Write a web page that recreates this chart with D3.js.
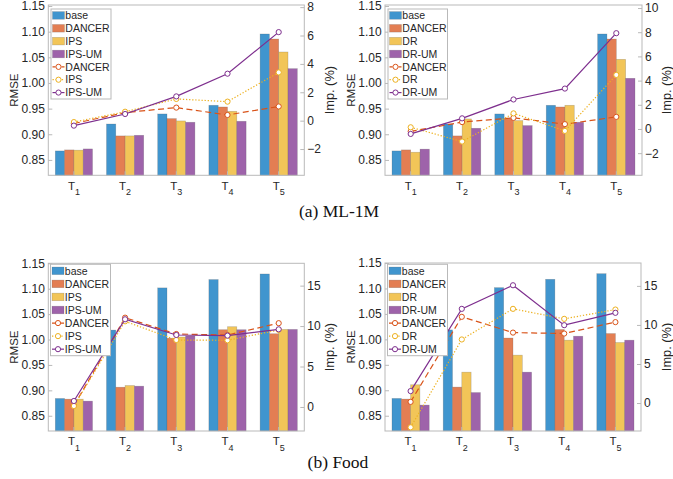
<!DOCTYPE html>
<html><head><meta charset="utf-8">
<script src="https://cdn.jsdelivr.net/npm/d3@7"></script>
<style>body{margin:0;background:#fff}svg{display:block}</style>
</head><body>
<svg id="c" width="673" height="479"></svg>
<script>
// ---------- data ----------
const categories = ["1", "2", "3", "4", "5"];
const rmseTicks = [0.85, 0.90, 0.95, 1.00, 1.05, 1.10, 1.15];
const impTicksML_IPS = [-2, 0, 2, 4, 6, 8];
const impTicksML_DR = [-2, 0, 2, 4, 6, 8, 10];
const impTicksFood = [0, 5, 10, 15];

// ML-1M RMSE
const mlBase   = [0.8675, 0.9200, 0.9396, 0.9565, 1.0955];
const mlDancer = [0.8695, 0.8968, 0.9305, 0.9532, 1.0857];
const mlIPS    = [0.8690, 0.8968, 0.9260, 0.9448, 1.0604];
const mlIPSUM  = [0.8714, 0.8980, 0.9234, 0.9253, 1.0279];
const mlDR     = [0.8650, 0.9299, 0.9266, 0.9565, 1.0461];
const mlDRUM   = [0.8710, 0.9117, 0.9169, 0.9234, 1.0091];
// ML-1M improvement (%)
const mlImpDancer = [-0.20, 0.57, 0.92, 0.40, 1.00];
const mlImpIPS    = [-0.10, 0.63, 1.53, 1.34, 3.40];
const mlImpIPSUM  = [-0.35, 0.47, 1.71, 3.31, 6.24];
const mlImpDR     = [0.14, -1.04, 1.29, -0.16, 4.47];
const mlImpDRUM   = [-0.41, 0.88, 2.44, 3.34, 7.92];

// Food RMSE
const foodBase   = [0.8840, 1.0186, 1.1016, 1.1180, 1.1290];
const foodDancer = [0.8827, 0.9062, 1.0026, 1.0193, 1.0114];
const foodIPS    = [0.8827, 0.9095, 1.0049, 1.0252, 1.0199];
const foodIPSUM  = [0.8788, 0.9082, 1.0069, 1.0193, 1.0199];
const foodDR     = [0.9108, 0.9356, 0.9690, 0.9984, 0.9938];
const foodDRUM   = [0.8709, 0.8955, 0.9356, 1.0062, 0.9984];
// Food improvement (%)
const foodImpDancer = [0.15, 11.04, 9.02, 8.90, 10.36];
const foodImpIPS    = [0.12, 10.59, 8.28, 8.24, 9.52];
const foodImpIPSUM  = [0.74, 10.84, 8.90, 8.82, 9.60];
const foodImpDR     = [-3.11, 8.14, 12.06, 10.78, 11.97];
const foodImpDRUM   = [1.53, 12.06, 15.08, 9.97, 11.55];

const barColors  = ["#4095ce", "#e37e53", "#f2c558", "#9e63aa"];
const lineColors = ["#D95319", "#EDB120", "#7E2F8E"];
const lineDash   = ["6,3.5", "1.3,1.8", null];

// ---------- panels ----------
const panels = [
  {x0: 48.3, x1: 304.3, y0: 5, y1: 175.3, lDom: [0.82, 1.152], rDom: [-3.85, 8.15], rTicks: impTicksML_IPS,
   bars: [mlBase, mlDancer, mlIPS, mlIPSUM], barNames: ["base", "DANCER", "IPS", "IPS-UM"],
   lines: [mlImpDancer, mlImpIPS, mlImpIPSUM], lineNames: ["DANCER", "IPS", "IPS-UM"],
   leg: [51, 9, 60, 90], rLabX: 329.5},
  {x0: 385, x1: 642, y0: 5, y1: 175.3, lDom: [0.82, 1.152], rDom: [-3.83, 10.25], rTicks: impTicksML_DR,
   bars: [mlBase, mlDancer, mlDR, mlDRUM], barNames: ["base", "DANCER", "DR", "DR-UM"],
   lines: [mlImpDancer, mlImpDR, mlImpDRUM], lineNames: ["DANCER", "DR", "DR-UM"],
   leg: [388, 9, 59.5, 90], rLabX: 666.5},
  {x0: 48.3, x1: 304.3, y0: 263.3, y1: 431, lDom: [0.82, 1.15], rDom: [-2.97, 17.76], rTicks: impTicksFood,
   bars: [foodBase, foodDancer, foodIPS, foodIPSUM], barNames: ["base", "DANCER", "IPS", "IPS-UM"],
   lines: [foodImpDancer, foodImpIPS, foodImpIPSUM], lineNames: ["DANCER", "IPS", "IPS-UM"],
   leg: [50.5, 264.3, 60, 91.4], rLabX: 329.5},
  {x0: 385, x1: 641, y0: 263, y1: 431, lDom: [0.82, 1.15], rDom: [-3.58, 17.93], rTicks: impTicksFood,
   bars: [foodBase, foodDancer, foodDR, foodDRUM], barNames: ["base", "DANCER", "DR", "DR-UM"],
   lines: [foodImpDancer, foodImpDR, foodImpDRUM], lineNames: ["DANCER", "DR", "DR-UM"],
   leg: [387.5, 264.3, 60, 91.4], rLabX: 666.5}
];

const svg = d3.select("#c");
const FONT = "'Liberation Sans', Arial, Helvetica, sans-serif";
const AX = "#b9b9b9", TXT = "#262626";

panels.forEach(p => {
  const g = svg.append("g");
  const x = d3.scaleBand().domain(categories).range([p.x0, p.x1]).paddingInner(0).paddingOuter(0);
  const bw = x.bandwidth();
  const gw = 0.727;
  const xs = d3.scaleBand().domain(d3.range(4)).range([bw * (1 - gw) / 2, bw * (1 + gw) / 2]).padding(0);
  const yl = d3.scaleLinear().domain(p.lDom).range([p.y1, p.y0]);
  const yr = d3.scaleLinear().domain(p.rDom).range([p.y1, p.y0]);

  // bars
  p.bars.forEach((vals, si) => {
    g.append("g").selectAll("rect").data(vals).join("rect")
      .attr("x", (d, i) => x(categories[i]) + xs(si))
      .attr("width", xs.bandwidth())
      .attr("y", d => yl(d))
      .attr("height", d => p.y1 - yl(d))
      .attr("fill", barColors[si])
      .attr("stroke", "rgba(90,90,90,0.35)")
      .attr("stroke-width", 0.6);
  });

  // box
  g.append("rect").attr("x", p.x0).attr("y", p.y0).attr("width", p.x1 - p.x0).attr("height", p.y1 - p.y0)
    .attr("fill", "none").attr("stroke", AX).attr("stroke-width", 1);

  // left axis
  const la = d3.axisLeft(yl).tickValues(rmseTicks).tickFormat(d3.format(".2f")).tickSizeInner(-4).tickSizeOuter(0).tickPadding(3.4);
  const lag = g.append("g").attr("transform", `translate(${p.x0},0)`).call(la);
  // right axis
  const ra = d3.axisRight(yr).tickValues(p.rTicks).tickFormat(d3.format("d")).tickSizeInner(-4).tickSizeOuter(0).tickPadding(3);
  const rag = g.append("g").attr("transform", `translate(${p.x1},0)`).call(ra);
  // bottom axis
  const ba = d3.axisBottom(x).tickSizeInner(-4).tickSizeOuter(0).tickFormat("");
  const bag = g.append("g").attr("transform", `translate(0,${p.y1})`).call(ba);
  [lag, rag, bag].forEach(a => {
    a.select(".domain").remove();
    a.selectAll(".tick line").attr("stroke", AX);
    a.selectAll(".tick text").attr("fill", TXT).style("font-family", FONT).style("font-size", "12px");
  });
  // T labels
  const tl = g.append("g").selectAll("text").data(categories).join("text")
    .attr("x", d => x(d) + bw / 2).attr("y", p.y1 + 14.2)
    .attr("text-anchor", "middle").attr("fill", TXT)
    .style("font-family", FONT).style("font-size", "11.5px");
  tl.append("tspan").text("T");
  tl.append("tspan").attr("dy", 5.3).style("font-size", "9px").text(d => d);

  // axis labels
  g.append("text").attr("transform", `translate(${p.x0 - 34.5},${(p.y0 + p.y1) / 2}) rotate(-90)`)
    .attr("text-anchor", "middle").attr("dy", "0.35em").attr("fill", TXT)
    .style("font-family", FONT).style("font-size", "11.5px").text("RMSE");
  g.append("text").attr("transform", `translate(${p.rLabX},${(p.y0 + p.y1) / 2}) rotate(-90)`)
    .attr("text-anchor", "middle").attr("dy", "0.35em").attr("fill", TXT)
    .style("font-family", FONT).style("font-size", "12.8px").text("Imp. (%)");

  // lines
  const cx = i => x(categories[i]) + bw / 2;
  p.lines.forEach((vals, li) => {
    const line = d3.line().x((d, i) => cx(i)).y(d => yr(d));
    g.append("path").attr("d", line(vals)).attr("fill", "none")
      .attr("stroke", lineColors[li]).attr("stroke-width", 1.2)
      .attr("stroke-dasharray", lineDash[li]);
    g.append("g").selectAll("circle").data(vals).join("circle")
      .attr("cx", (d, i) => cx(i)).attr("cy", d => yr(d)).attr("r", 2.6)
      .attr("fill", "#fff").attr("stroke", lineColors[li]).attr("stroke-width", 1);
  });

  // legend
  const [lx, ly, lw, lh] = p.leg;
  const lg = g.append("g");
  lg.append("rect").attr("x", lx).attr("y", ly).attr("width", lw).attr("height", lh)
    .attr("fill", "#fff").attr("stroke", AX).attr("stroke-width", 1);
  const rowH = lh / 7;
  const entries = p.barNames.map((n, i) => ({n, t: "bar", i})).concat(p.lineNames.map((n, i) => ({n, t: "line", i})));
  entries.forEach((e, k) => {
    const cy = ly + rowH * (k + 0.5);
    if (e.t === "bar") {
      lg.append("rect").attr("x", lx + 1.5).attr("y", cy - 3.8).attr("width", 12).attr("height", 7.6)
        .attr("fill", barColors[e.i]).attr("stroke", "rgba(90,90,90,0.35)").attr("stroke-width", 0.6);
    } else {
      lg.append("line").attr("x1", lx + 1.5).attr("x2", lx + 13.5).attr("y1", cy).attr("y2", cy)
        .attr("stroke", lineColors[e.i]).attr("stroke-width", 1.2).attr("stroke-dasharray", lineDash[e.i] ? (e.i === 0 ? "3,1.5" : "1.3,1.8") : null);
      lg.append("circle").attr("cx", lx + 7.5).attr("cy", cy).attr("r", 2.6)
        .attr("fill", "#fff").attr("stroke", lineColors[e.i]).attr("stroke-width", 1);
    }
    lg.append("text").attr("x", lx + 14.3).attr("y", cy).attr("dy", "0.36em").attr("fill", TXT)
      .style("font-family", FONT).style("font-size", "10.5px").text(e.n);
  });
});

// captions
const SERIF = "'Liberation Serif', 'DejaVu Serif', serif";
svg.append("text").attr("x", 339).attr("y", 216.5).attr("text-anchor", "middle").attr("fill", "#111")
  .style("font-family", SERIF).style("font-size", "17.5px").text("(a)  ML-1M");
svg.append("text").attr("x", 338).attr("y", 468).attr("text-anchor", "middle").attr("fill", "#111")
  .style("font-family", SERIF).style("font-size", "17.5px").text("(b)  Food");
</script>
</body></html>
